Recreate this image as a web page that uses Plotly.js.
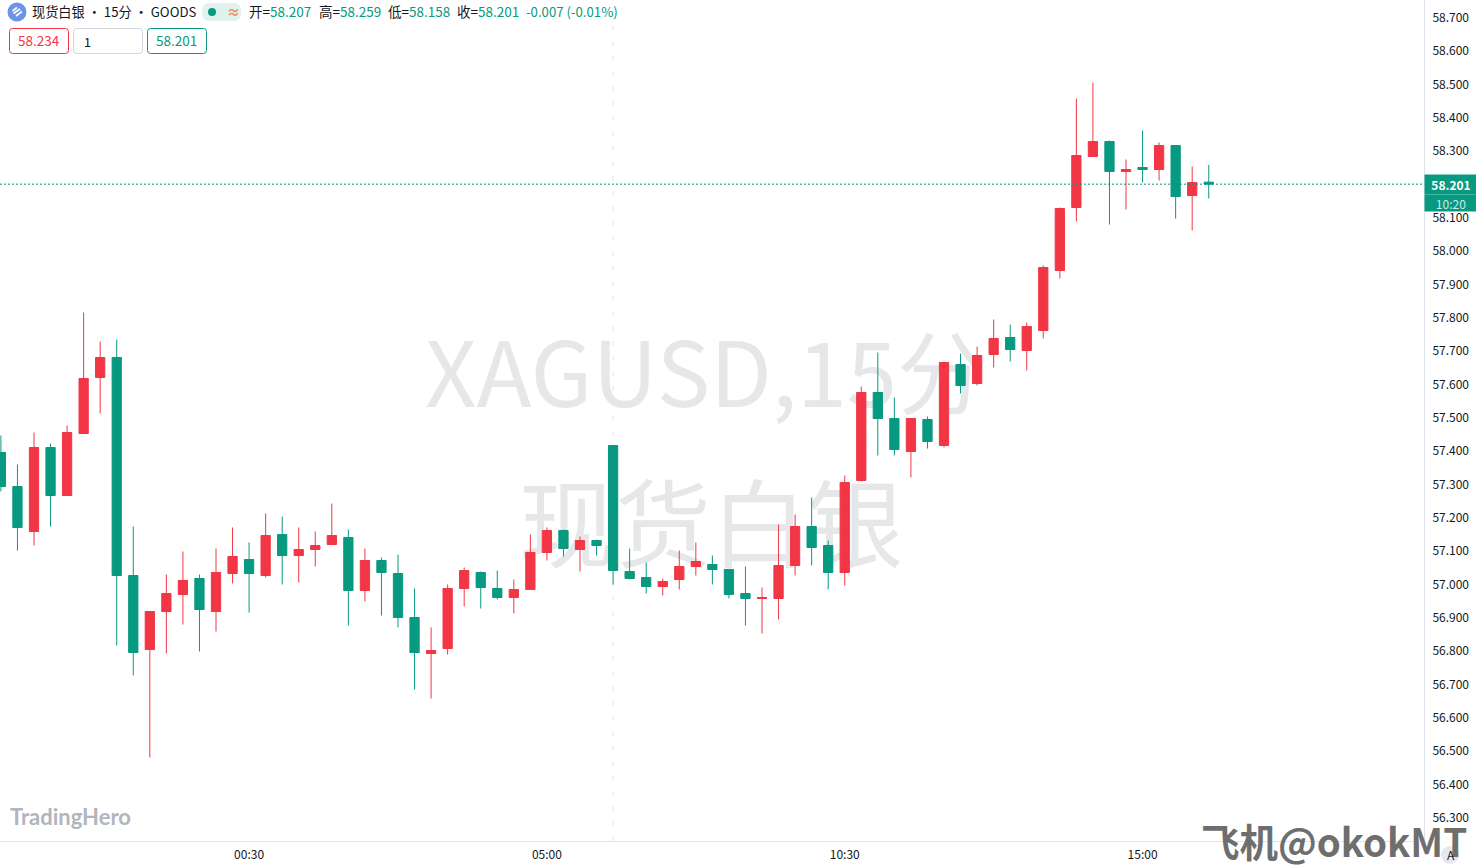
<!DOCTYPE html>
<html>
<head>
<meta charset="utf-8">
<script src="https://cdn.plot.ly/plotly-3.0.1.min.js"></script>
<style>html,body{margin:0;padding:0;background:#fff;overflow:hidden}#chart{width:1476px;height:866px}</style>
</head>
<body>
<div id="chart"></div>
<script>
const bars = [0,1,2,3,4,5,6,7,8,9,10,11,12,13,14,15,16,17,18,19,20,21,22,23,24,25,26,27,28,29,30,31,32,33,34,35,36,37,38,39,40,41,42,43,44,45,46,47,48,49,50,51,52,53,54,55,56,57,58,59,60,61,62,63,64,65,66,67,68,69,70,71,72,73];
const open = [57.396,57.294,57.159,57.411,57.267,57.453,57.621,57.681,57.027,56.805,56.919,56.970,57.018,56.919,57.033,57.075,57.027,57.150,57.087,57.105,57.120,57.141,56.982,57.072,57.033,56.901,56.793,56.808,56.988,57.036,56.988,56.961,56.985,57.096,57.162,57.105,57.132,57.417,57.039,57.021,56.994,57.015,57.054,57.060,57.045,56.973,56.958,56.958,57.057,57.174,57.117,57.036,57.312,57.576,57.498,57.399,57.495,57.417,57.660,57.603,57.690,57.741,57.702,57.762,57.942,58.131,58.284,58.329,58.239,58.251,58.245,58.317,58.167,58.207];
const high = [57.447,57.360,57.456,57.423,57.477,57.816,57.729,57.735,57.174,56.919,57.030,57.099,57.030,57.108,57.171,57.126,57.213,57.204,57.171,57.159,57.243,57.165,57.108,57.081,57.090,56.988,56.871,57.000,57.051,57.039,57.042,57.015,57.150,57.171,57.165,57.144,57.135,57.417,57.108,57.066,57.018,57.102,57.126,57.087,57.045,57.054,56.991,57.180,57.210,57.261,57.132,57.327,57.594,57.696,57.561,57.498,57.504,57.669,57.693,57.714,57.795,57.780,57.786,57.957,58.131,58.458,58.506,58.332,58.275,58.362,58.326,58.317,58.254,58.259];
const low = [57.279,57.102,57.117,57.174,57.267,57.453,57.513,56.817,56.727,56.481,56.793,56.880,56.799,56.859,57.003,56.916,57.021,57.000,57.006,57.054,57.120,56.877,56.949,56.907,56.871,56.685,56.658,56.790,56.934,56.928,56.955,56.913,56.985,57.072,57.084,57.039,57.087,57.000,57.015,56.973,56.967,56.985,57.027,57.000,56.958,56.877,56.853,56.895,57.027,57.057,56.985,56.997,57.309,57.387,57.387,57.321,57.408,57.411,57.573,57.597,57.651,57.669,57.642,57.738,57.918,58.089,58.284,58.080,58.125,58.206,58.212,58.098,58.062,58.158];
const close = [57.294,57.171,57.411,57.267,57.456,57.618,57.681,57.027,56.796,56.919,56.973,57.012,56.925,57.036,57.084,57.033,57.147,57.087,57.105,57.117,57.147,56.982,57.072,57.036,56.901,56.796,56.802,56.988,57.042,56.991,56.961,56.985,57.096,57.162,57.108,57.132,57.117,57.042,57.018,56.994,57.009,57.054,57.069,57.045,56.970,56.958,56.961,57.057,57.174,57.111,57.036,57.306,57.576,57.498,57.405,57.498,57.429,57.666,57.597,57.687,57.738,57.705,57.774,57.951,58.128,58.287,58.329,58.239,58.245,58.245,58.317,58.164,58.206,58.201];

const xTickVals = [15,33,51,69];
const xTickText = ['00:30','05:00','10:30','15:00'];
const yTickVals = [58.7,58.6,58.5,58.4,58.3,58.1,58.0,57.9,57.8,57.7,57.6,57.5,57.4,57.3,57.2,57.1,57.0,56.9,56.8,56.7,56.6,56.5,56.4,56.3];
const lastPrice = 58.201;
const sessionBreak = 37;
const symbolText = '现货白银 • 15分 • GOODS';
const ohlcNames = ['开=','高=','低=','收='];
const ohlcVals = ['58.207','58.259','58.158','58.201'];
const changeText = '-0.007 (-0.01%)';

const UP = '#f23645', DOWN = '#089981', INK = '#131722';
const FONT = '"Noto Sans CJK SC","Noto Sans",sans-serif';
const PW = 1424, PH = 841;
const fx = p => p / PW, fy = p => 1 - p / PH;

function label(text, px, py, size, color, extra) {
  return Object.assign({
    text, xref: 'paper', yref: 'paper', x: fx(px), y: fy(py), xanchor: 'left', yanchor: 'middle',
    showarrow: false, align: 'left', font: {family: FONT, size, color}
  }, extra || {});
}
function rrect(x0, y0, x1, y1, r, line, fill, width) {
  const X = fx, Y = fy;
  const path = `M ${X(x0+r)} ${Y(y0)} L ${X(x1-r)} ${Y(y0)} Q ${X(x1)} ${Y(y0)} ${X(x1)} ${Y(y0+r)} L ${X(x1)} ${Y(y1-r)} Q ${X(x1)} ${Y(y1)} ${X(x1-r)} ${Y(y1)} L ${X(x0+r)} ${Y(y1)} Q ${X(x0)} ${Y(y1)} ${X(x0)} ${Y(y1-r)} L ${X(x0)} ${Y(y0+r)} Q ${X(x0)} ${Y(y0)} ${X(x0+r)} ${Y(y0)} Z`;
  return {type: 'path', xref: 'paper', yref: 'paper', path, line: {color: line, width: width === undefined ? 1 : width}, fillcolor: fill || 'rgba(0,0,0,0)', layer: 'above'};
}
function circle(cx, cy, r, fill) {
  return {type: 'circle', xref: 'paper', yref: 'paper', x0: fx(cx-r), x1: fx(cx+r), y0: fy(cy+r), y1: fy(cy-r), line: {width: 0}, fillcolor: fill, layer: 'above'};
}
function stroke(x0, y0, x1, y1, color, w) {
  return {type: 'line', xref: 'paper', yref: 'paper', x0: fx(x0), x1: fx(x1), y0: fy(y0), y1: fy(y1), line: {color, width: w}, layer: 'above'};
}

const ohlcPos = [247, 317, 386, 455];
const headerAnns = ohlcNames.map((n, i) =>
  label(`${n}<span style="color:${DOWN}">${ohlcVals[i]}</span>`, ohlcPos[i], 11, 13.5, INK));

const annotations = [
  label('XAGUSD,15分', 706, 368, 90, '#e6e7e9', {xanchor: 'center'}),
  label('现货白银', 711, 518, 96, '#e6e7e9', {xanchor: 'center'}),
  label(symbolText, 30, 11, 13.2, INK),
  label('<b>≈</b>', 225, 11, 13, '#f7844d'),
  ...headerAnns,
  label(changeText, 524, 11, 13.2, DOWN),
  label('58.234', 39, 40, 13.5, UP, {xanchor: 'center'}),
  label('1', 82, 41, 12.5, INK),
  label('58.201', 176, 40, 13.5, DOWN, {xanchor: 'center'}),
  label('<b>TradingHero</b>', 8, 816, 22, '#b2b5be', {font: {family: 'Lato,"Noto Sans",sans-serif', size: 22, color: '#b2b5be'}}),
  {text: '<b>58.201</b>', xref: 'paper', yref: 'y', x: 1, y: lastPrice, xanchor: 'left', yanchor: 'middle', showarrow: false, width: 52, height: 19, borderpad: 0, bgcolor: DOWN, font: {family: FONT, size: 12, color: '#ffffff'}},
  {text: '10:20', xref: 'paper', yref: 'y', x: 1, y: lastPrice, yshift: -18.5, xanchor: 'left', yanchor: 'middle', showarrow: false, width: 52, height: 16, borderpad: 0, bgcolor: DOWN, font: {family: FONT, size: 12, color: '#cfeae5'}},
  label('<b>飞机@okokMT</b>', 1199, 840, 38.5, '#6e6e6e'),
  label('A', 1445, 854, 12, INK)
];

const shapes = [
  {type: 'line', xref: 'x', yref: 'paper', x0: sessionBreak, x1: sessionBreak, y0: 0, y1: 1, line: {color: '#eceef3', width: 1.5, dash: '5px,10px'}, layer: 'below'},
  {type: 'line', xref: 'paper', yref: 'y', x0: 0, x1: 1, y0: lastPrice, y1: lastPrice, line: {color: DOWN, width: 1, dash: '2px,2px'}, layer: 'above'},
  circle(17, 12, 9.5, '#6a94e6'),
  stroke(12.5, 11, 17, 7.5, '#ffffff', 1.6),
  stroke(13.5, 13.5, 20, 9, '#ffffff', 1.6),
  stroke(16, 16, 22, 11.5, '#ffffff', 1.6),
  rrect(202, 3, 241, 21, 8, 'rgba(0,0,0,0)', '#dff2ee', 0),
  circle(212, 12, 4, DOWN),
  rrect(9.5, 28.5, 68.5, 53.5, 3, UP),
  rrect(73.5, 28.5, 142.5, 53.5, 3, '#d1d4dc'),
  rrect(147.5, 28.5, 206.5, 53.5, 3, DOWN),
  circle(1450, 855, 9, '#e6e8ef')
];

const trace = {
  type: 'candlestick', x: bars, open, high, low, close, whiskerwidth: 0,
  line: {width: 1},
  increasing: {line: {color: UP, width: 1}, fillcolor: UP},
  decreasing: {line: {color: DOWN, width: 1}, fillcolor: DOWN},
  hoverinfo: 'skip', showlegend: false
};

const layout = {
  width: 1476, height: 866,
  margin: {l: 0, r: 52, t: 0, b: 25, pad: 0},
  paper_bgcolor: '#ffffff', plot_bgcolor: 'rgba(0,0,0,0)',
  boxgap: 0.2, showlegend: false, dragmode: false,
  font: {family: FONT, size: 12, color: INK},
  xaxis: {
    type: 'linear', range: [-0.055, 86.01], rangeslider: {visible: false},
    tickmode: 'array', tickvals: xTickVals, ticktext: xTickText,
    showgrid: false, zeroline: false, showline: true, linecolor: '#e0e3eb', linewidth: 1,
    ticks: 'outside', ticklen: 3, tickcolor: 'rgba(0,0,0,0)',
    tickfont: {family: FONT, size: 12, color: INK}
  },
  yaxis: {
    side: 'right', range: [56.2305, 58.7535], tickmode: 'array', tickvals: yTickVals,
    tickformat: '.3f', showgrid: false, zeroline: false, showline: true, linecolor: '#e0e3eb', linewidth: 1,
    ticks: 'outside', ticklen: 5, tickcolor: 'rgba(0,0,0,0)',
    tickfont: {family: FONT, size: 12, color: INK}
  },
  annotations, shapes
};

Plotly.newPlot('chart', [trace], layout, {displayModeBar: false, staticPlot: true}).then(gd => {
  const below = gd.querySelector('.layer-below');
  const items = gd.querySelectorAll('.infolayer .annotation');
  [items[0], items[1]].forEach(n => below.appendChild(n));
});
</script>
</body>
</html>
